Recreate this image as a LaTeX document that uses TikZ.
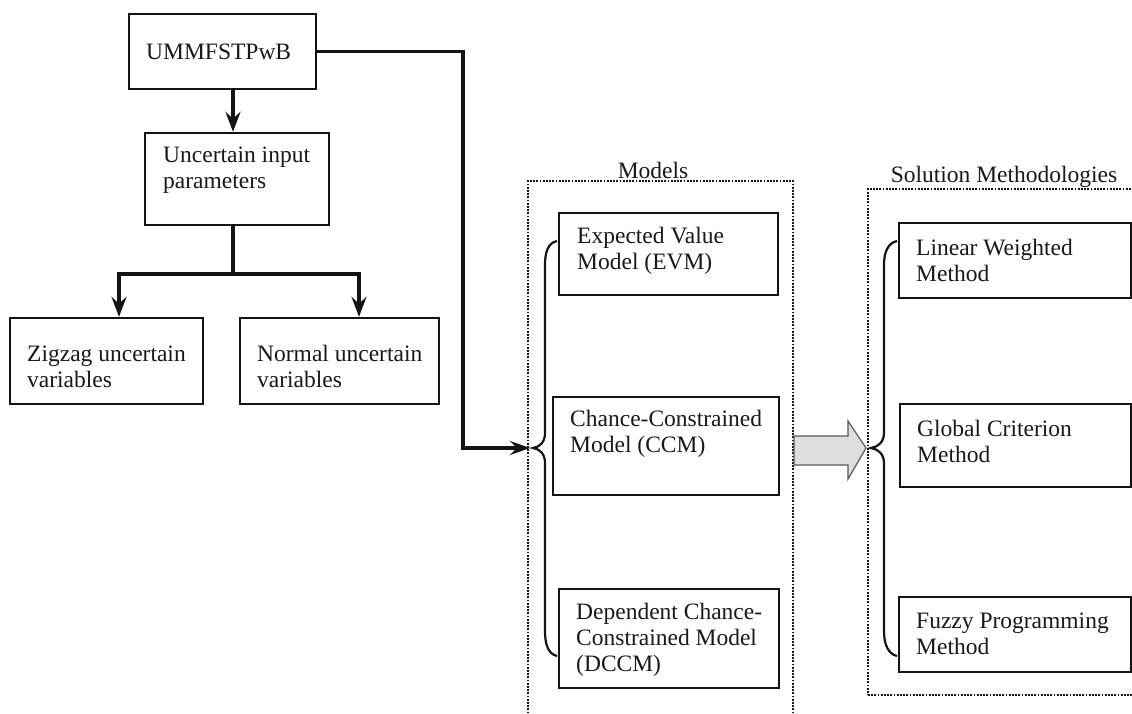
\documentclass[tikz,border=0pt]{standalone}
\usepackage{fontspec}
\setmainfont{Liberation Serif}
\usetikzlibrary{arrows.meta}
\begin{document}
\begin{tikzpicture}[x=1pt,y=-1pt,
  box/.style={draw=black!92, line width=2.4pt, inner sep=0pt},
  txt/.style={anchor=west, inner sep=0pt, align=left, text=black!90, font=\fontsize{23.5}{26}\selectfont},
  lbl/.style={anchor=base, inner sep=0pt, text=black!90, font=\fontsize{23.5}{26}\selectfont},
  conn/.style={draw=black!92, line width=3.4pt},
  arr/.style={conn, -{Stealth[length=20pt,width=15pt,inset=7pt]}},
  dotbox/.style={draw=black!92, line width=2pt, dash pattern=on 1.8pt off 1.4pt, inner sep=0pt},
  bracestyle/.style={draw=black!92, line width=2.2pt},
  bigarrow/.style={fill=black!13, draw=black!65, line width=1.2pt}]
\useasboundingbox (0,0) rectangle (1132,714);
\clip (0,0) rectangle (1132,714);
\fill[white] (0,0) rectangle (1132,714);

% dotted containers
\node[dotbox, minimum width=265, minimum height=549] (models) at (660.5,455.5) {};
\node[dotbox, minimum width=272, minimum height=506] (sols) at (1004,442) {};
\node[lbl] (modelsL) at (653,179) {Models};
\node[lbl] (solsL) at (1004,183) {Solution Methodologies};

% left boxes
\node[box, minimum width=187, minimum height=75] (ummf) at (222.5,51.5) {};
\node[txt] (ummfT) at (146,52) {UMMFSTPwB};
\node[box, minimum width=184, minimum height=92] (uip) at (237,179) {};
\node[txt] (uipT) at (163,170.5) {Uncertain input\\parameters};
\node[box, minimum width=193, minimum height=86] (zig) at (106.5,361) {};
\node[txt] (zigT) at (27,366.5) {Zigzag uncertain\\variables};
\node[box, minimum width=199, minimum height=86] (nor) at (339.5,361) {};
\node[txt] (norT) at (257,366.5) {Normal uncertain\\variables};

% model boxes
\node[box, minimum width=219, minimum height=82] (evm) at (668.5,254) {};
\node[txt] (evmT) at (577,250.5) {Expected Value\\Model (EVM)};
\node[box, minimum width=226, minimum height=98] (ccm) at (666,446) {};
\node[txt] (ccmT) at (570,433.5) {Chance-Constrained\\Model (CCM)};
\node[box, minimum width=220, minimum height=99] (dccm) at (669,638.5) {};
\node[txt] (dccmT) at (576,640) {Dependent Chance-\\Constrained Model\\(DCCM)};

% solution boxes
\node[box, minimum width=232, minimum height=75] (lwm) at (1015,260.5) {};
\node[txt] (lwmT) at (916,260.5) {Linear Weighted\\Method};
\node[box, minimum width=231, minimum height=83] (gcm) at (1015.5,445.5) {};
\node[txt] (gcmT) at (917,441) {Global Criterion\\Method};
\node[box, minimum width=232, minimum height=75] (fpm) at (1015,634.5) {};
\node[txt] (fpmT) at (916,633.5) {Fuzzy Programming\\Method};

% connectors on the left
\draw[arr] ([xshift=10.5pt]ummf.south) -- ([xshift=10.5pt]ummf.south |- uip.north);
\coordinate (split) at (233,274);
\draw[conn] (uip.south -| split) -- (split);
\draw[arr] (split) -| ([xshift=12.5pt]zig.north);
\draw[arr] (split) -| ([xshift=19.5pt]nor.north);

% braces
\coordinate (mtip) at (533,448);
\coordinate (stip) at (871,448);
\draw[bracestyle] (557,241) .. controls (548,243) and (545,252) .. (545,265) -- (545,433)
  .. controls (545,442) and (540,447) .. (mtip) .. controls (540,449) and (545,454) .. (545,463)
  -- (545,631) .. controls (545,644) and (548,654) .. (557,656);
\draw[bracestyle] (897,241) .. controls (888,243) and (884,252) .. (884,265) -- (884,433)
  .. controls (884,442) and (878,447) .. (stip) .. controls (878,449) and (884,454) .. (884,463)
  -- (884,631) .. controls (884,644) and (888,654) .. (897,656);

% long connector into the models brace
\draw[conn, -{Stealth[length=20pt,width=14pt,inset=7pt]}] (ummf.east) -| (463,448) -- ([xshift=-3pt]mtip);

% big gray arrow
\draw[bigarrow] (794,436) -- (848,436) -- (848,421) -- (866,448) -- (848,479) -- (848,465) -- (794,465) -- cycle;
\end{tikzpicture}
\end{document}
